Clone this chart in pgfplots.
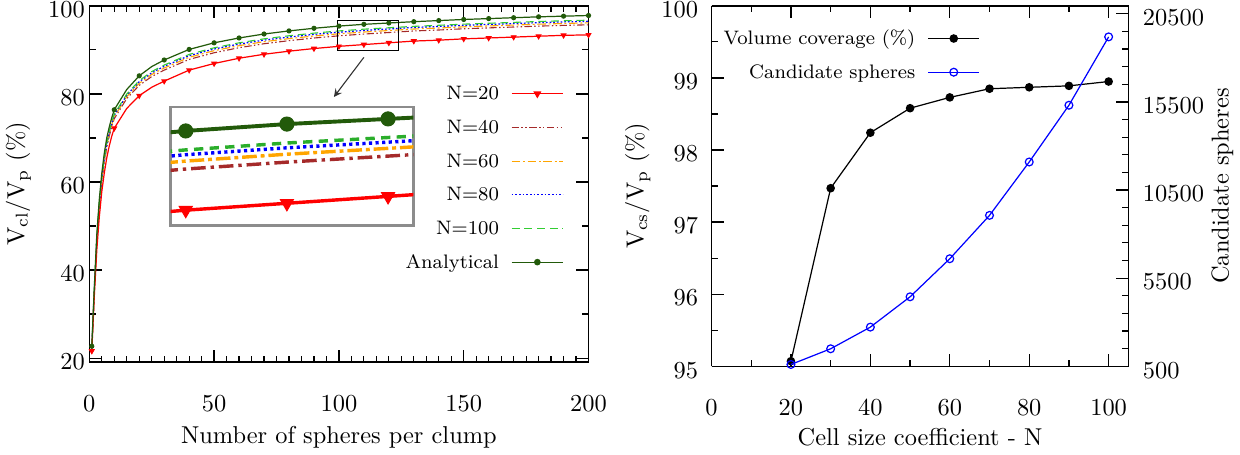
\documentclass[border=0pt]{standalone}
\usepackage{pgfplots}
\pgfplotsset{compat=1.18}
\usepackage{pgfplotstable}

\definecolor{cRed}{RGB}{255,0,0}
\definecolor{cBrown}{RGB}{165,42,42}
\definecolor{cOrange}{RGB}{255,165,0}
\definecolor{cBlue}{RGB}{0,0,255}
\definecolor{cLime}{RGB}{50,205,50}
\definecolor{cDkGreen}{RGB}{34,90,10}

\pgfplotstableread{
x A N20 N40 N60 N80 N100
1 22.7 21.6 22.17 22.28 22.37 22.44
2 36.0 34.0 35.04 35.24 35.40 35.52
3 48.0 44.5 46.32 46.67 46.95 47.16
4 56.0 52.0 54.08 54.48 54.80 55.04
5 62.0 57.8 59.98 60.40 60.74 60.99
6 66.5 62.0 64.34 64.79 65.15 65.42
7 70.0 65.5 67.84 68.29 68.65 68.92
8 72.5 68.2 70.44 70.87 71.21 71.47
9 74.6 70.4 72.58 73.00 73.34 73.59
10 76.4 72.2 74.38 74.80 75.14 75.39
15 81.0 76.7 78.94 79.37 79.71 79.97
20 84.1 79.6 81.94 82.39 82.75 83.02
25 86.2 81.5 83.94 84.41 84.79 85.07
30 87.7 82.9 85.40 85.88 86.26 86.55
40 90.1 85.4 87.84 88.31 88.69 88.97
50 91.6 86.9 89.34 89.81 90.19 90.47
60 92.7 88.1 90.49 90.95 91.32 91.60
70 93.6 89.0 91.39 91.85 92.22 92.50
80 94.3 89.7 92.09 92.55 92.92 93.20
90 94.9 90.3 92.69 93.15 93.52 93.80
100 95.4 90.8 93.19 93.65 94.02 94.30
110 95.8 91.2 93.59 94.05 94.42 94.70
120 96.1 91.6 93.94 94.39 94.75 95.02
130 96.4 92.0 94.29 94.73 95.08 95.34
140 96.65 92.2 94.51 94.96 95.32 95.58
150 96.9 92.5 94.79 95.23 95.58 95.84
160 97.1 92.7 94.99 95.43 95.78 96.04
170 97.3 92.9 95.19 95.63 95.98 96.24
180 97.5 93.1 95.39 95.83 96.18 96.44
190 97.65 93.3 95.56 95.99 96.35 96.61
200 97.8 93.4 95.69 96.13 96.48 96.74
}\leftdata

\pgfplotstableread{
x A N20
1 22.7 21.6
10 76.4 72.2
20 84.1 79.6
30 87.7 82.9
40 90.1 85.4
50 91.6 86.9
60 92.7 88.1
70 93.6 89.0
80 94.3 89.7
90 94.9 90.3
100 95.4 90.8
110 95.8 91.2
120 96.1 91.6
130 96.4 92.0
140 96.65 92.2
150 96.9 92.5
160 97.1 92.7
170 97.3 92.9
180 97.5 93.1
190 97.65 93.3
200 97.8 93.4
}\leftmarks

\pgfplotstableread{
N vol cand
20 95.07 600
30 97.47 1490
40 98.24 2720
50 98.58 4440
60 98.73 6600
70 98.85 9060
80 98.87 12090
90 98.89 15310
100 98.95 19190
}\rightdata

\pgfplotsset{
  gp/.style={
    scale only axis,
    tick align=inside,
    major tick length=5pt,
    minor tick length=2.6pt,
    every tick/.style={black, line width=0.5pt},
    axis line style={line width=0.6pt},
    xticklabel style={yshift=-10.2pt},
    yticklabel style={yshift=-1.6pt},
    legend image code/.code={\path (0pt,0pt); \draw[mark repeat=2,mark phase=2,##1] plot coordinates {(5pt,0pt) (15.5pt,0pt) (26pt,0pt)};},
  },
  s20/.style={cRed, line width=0.5pt},
  s40/.style={cBrown, line width=0.45pt, dash pattern=on 3pt off 1pt on 0.6pt off 1pt on 0.6pt off 1pt},
  s60/.style={cOrange, line width=0.45pt, dash pattern=on 3.5pt off 1.1pt on 0.8pt off 1.1pt},
  s80/.style={cBlue, line width=0.5pt, dash pattern=on 0.7pt off 0.8pt},
  s100/.style={cLime, line width=0.45pt, dash pattern=on 3.2pt off 2pt},
  sA/.style={cDkGreen, line width=0.5pt},
}

\begin{document}
\begin{tikzpicture}
\path[use as bounding box] (0pt,0pt) rectangle (508.2pt,-186.1pt);

% ---------------- left chart ----------------
\begin{axis}[gp,
  at={(36.6pt,-148.4pt)}, anchor=south west,
  width=204.6pt, height=146.0pt,
  xmin=0, xmax=200, ymin=19.1, ymax=100,
  xtick={0,50,...,200}, minor x tick num=9,
  ytick={20,40,...,100}, minor y tick num=1,
  yticklabel style={xshift=1.7pt},
  xlabel={Number of spheres per clump},
  ylabel={$\mathrm{V_{cl}/V_{p}}$ (\%)},
  xlabel style={at={(axis description cs:0.5,-0.211)}, anchor=center},
  ylabel style={at={(axis description cs:-0.142,0.5)}, anchor=center},
  legend style={at={(axis description cs:0.951,0.775)}, anchor=north east,
    draw=none, fill=none, font=\footnotesize, inner sep=0pt, row sep=7.8pt,
    nodes={inner sep=0pt, text height=5.5pt, text depth=0.5pt}},
  legend cell align=right, legend plot pos=right,
]
\addlegendimage{s20, mark=triangle*, mark options={solid, rotate=180, mark size=1.4pt}}
\addlegendentry{N=20}
\addlegendimage{s40}
\addlegendentry{N=40}
\addlegendimage{s60}
\addlegendentry{N=60}
\addlegendimage{s80}
\addlegendentry{N=80}
\addlegendimage{s100}
\addlegendentry{N=100}
\addlegendimage{sA, mark=*, mark options={solid, mark size=1.1pt}}
\addlegendentry{Analytical}

\addplot[s40, forget plot] table[x=x, y=N40] {\leftdata};
\addplot[s60, forget plot] table[x=x, y=N60] {\leftdata};
\addplot[s80, forget plot] table[x=x, y=N80] {\leftdata};
\addplot[s100, forget plot] table[x=x, y=N100] {\leftdata};
\addplot[s20, forget plot] table[x=x, y=N20] {\leftdata};
\addplot[sA, forget plot] table[x=x, y=A] {\leftdata};
\addplot[cRed, only marks, mark=triangle*, mark options={rotate=180}, mark size=1.1pt, forget plot] table[x=x, y=N20] {\leftmarks};
\addplot[cDkGreen, only marks, mark=*, mark size=0.85pt, forget plot] table[x=x, y=A] {\leftmarks};

\draw[black, line width=0.4pt] (axis cs:99.5,89.95) rectangle (axis cs:123.7,96.75);
\draw[black!80, line width=0.45pt, -stealth] (axis cs:110,88.3) -- (axis cs:98,79.3);
\end{axis}

% ---------------- inset ----------------
\begin{axis}[
  scale only axis,
  at={(69.9pt,-92.5pt)}, anchor=south west,
  width=99.5pt, height=48.7pt,
  xmin=98.5, xmax=122.5, ymin=89.9, ymax=96.8,
  ticks=none,
  axis line style={black!45, line width=1.1pt},
  axis background/.style={fill=white},
]
\addplot[cBrown, line width=1.4pt, dash pattern=on 6pt off 2pt on 1.4pt off 2pt] table[x=x, y=N40] {\leftdata};
\addplot[cOrange, line width=1.4pt, dash pattern=on 6pt off 1.6pt on 1.6pt off 1.6pt] table[x=x, y=N60] {\leftdata};
\addplot[cBlue, line width=1.4pt, dash pattern=on 1.3pt off 1.4pt] table[x=x, y=N80] {\leftdata};
\addplot[cLime!85!black, line width=1.4pt, dash pattern=on 3.8pt off 2.6pt] table[x=x, y=N100] {\leftdata};
\addplot[cRed, line width=1.4pt] table[x=x, y=N20] {\leftdata};
\addplot[cDkGreen, line width=1.6pt] table[x=x, y=A] {\leftdata};
\addplot[cRed, only marks, mark=triangle*, mark options={rotate=180}, mark size=3.1pt] table[x=x, y=N20] {\leftmarks};
\addplot[cDkGreen, only marks, mark=*, mark size=2.9pt] table[x=x, y=A] {\leftmarks};
\end{axis}

% ---------------- right chart ----------------
\begin{axis}[gp,
  at={(291.6pt,-150.1pt)}, anchor=south west,
  width=170.9pt, height=147.7pt,
  xmin=0, xmax=105, ymin=95, ymax=100,
  axis y line*=left,
  xtick={0,20,...,100}, minor x tick num=1,
  ytick={95,96,...,100}, minor y tick num=1,
  yticklabel style={xshift=-2pt},
  xlabel={Cell size coefficient - N},
  ylabel={$\mathrm{V_{cs}/V_{p}}$ (\%)},
  xlabel style={at={(axis description cs:0.5,-0.197)}, anchor=center},
  ylabel style={at={(axis description cs:-0.177,0.5)}, anchor=center},
]
\addplot[black, line width=0.5pt, mark=*, mark size=1.5pt] table[x=N, y=vol] {\rightdata};
\end{axis}

\begin{axis}[gp,
  at={(291.6pt,-150.1pt)}, anchor=south west,
  width=170.9pt, height=147.7pt,
  xmin=0, xmax=105, ymin=500, ymax=20950,
  axis y line*=right, axis x line=none,
  ytick={500,5500,...,20500}, minor y tick num=4,
  scaled y ticks=false,
  yticklabel style={xshift=2.4pt, /pgf/number format/fixed, /pgf/number format/set thousands separator={}},
  ylabel={Candidate spheres},
  ylabel style={at={(axis description cs:1.225,0.5)}, anchor=center},
  legend style={at={(axis description cs:0.645,0.931)}, anchor=north east,
    draw=none, fill=none, font=\footnotesize, inner sep=0pt, row sep=7.8pt,
    nodes={inner sep=0pt, text height=5.5pt, text depth=0.5pt}},
  legend cell align=right, legend plot pos=right,
]
\addlegendimage{black, line width=0.5pt, mark=*, mark size=1.5pt}
\addlegendentry{Volume coverage (\%)}
\addplot[cBlue, line width=0.5pt, mark=o, mark size=1.6pt, mark options={line width=0.5pt}] table[x=N, y=cand] {\rightdata};
\addlegendentry{Candidate spheres}
\end{axis}
\end{tikzpicture}
\end{document}
